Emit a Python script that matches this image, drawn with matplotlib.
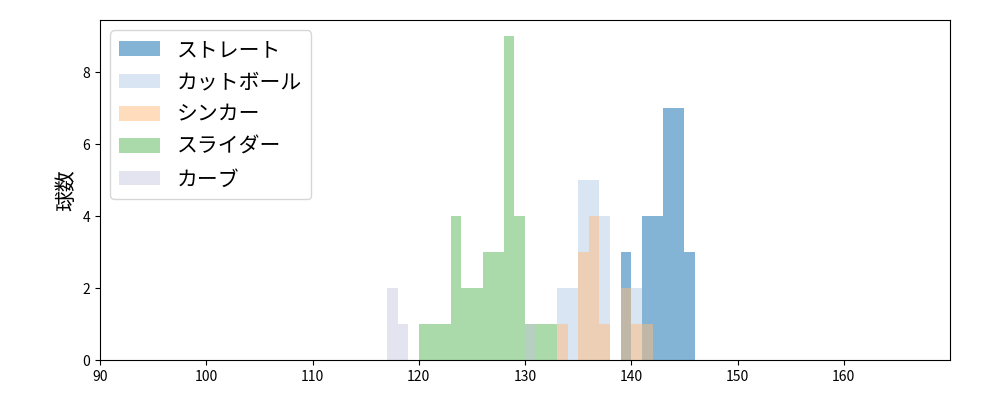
import matplotlib
matplotlib.use("Agg")
import matplotlib.pyplot as plt
import numpy as np

plt.rcParams['font.family'] = ['Noto Sans CJK JP', 'DejaVu Sans']

names = ["ストレート", "カットボール", "シンカー", "スライダー", "カーブ"]
straight_speed = [139, 141, 142, 143, 144, 145]
straight_count = [3, 4, 4, 7, 7, 3]
cut_speed = [133, 134, 135, 136, 137, 140]
cut_count = [2, 2, 5, 5, 4, 2]
sinker_speed = [133, 135, 136, 137, 139, 140, 141]
sinker_count = [1, 3, 4, 1, 2, 1, 1]
slider_speed = [120, 121, 122, 123, 124, 125, 126, 127, 128, 129, 130, 131, 132]
slider_count = [1, 1, 1, 4, 2, 2, 3, 3, 9, 4, 1, 1, 1]
curve_speed = [117, 118, 130]
curve_count = [2, 1, 1]

series = [(straight_speed, straight_count, '#1f77b4', 0.55),
          (cut_speed, cut_count, '#aec7e8', 0.45),
          (sinker_speed, sinker_count, '#ffbb78', 0.5),
          (slider_speed, slider_count, '#2ca02c', 0.4),
          (curve_speed, curve_count, '#c5c5de', 0.45)]

fig, ax = plt.subplots(figsize=(10, 4), dpi=100)
fig.subplots_adjust(left=0.1, right=0.95, top=0.95, bottom=0.1)
edges = np.arange(90, 171, 1)
for (sp, ct, col, a), name in zip(series, names):
    ax.hist(sp, bins=edges, weights=ct, color=col, alpha=a, label=name)
ax.set_xlim(90, 170)
ax.set_xticks(range(90, 170, 10))
ax.set_yticks([0, 2, 4, 6, 8])
ax.set_ylabel("球数", fontsize=15)
ax.legend(loc='upper left', fontsize=15)
fig.savefig("out.png")
